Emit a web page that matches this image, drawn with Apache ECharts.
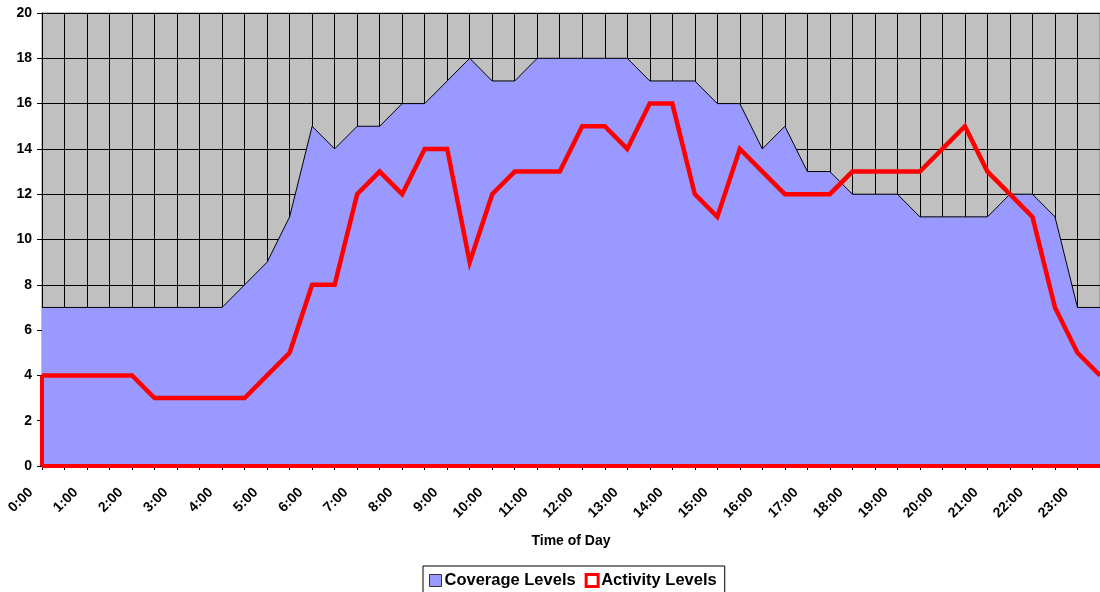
<!DOCTYPE html>
<html>
<head>
<meta charset="utf-8">
<script src="https://cdn.jsdelivr.net/npm/echarts@6/dist/echarts.min.js"></script>
<style>
    html, body { margin: 0; padding: 0; background: #fff; }
    #mychart { width: 1100px; height: 592px; }
</style>
</head>
<body>
<div id="mychart"></div>
<script>
// half-hour slots, 0:00 .. 23:30
var times = []
for (var h = 0; h < 24; h++) {
    times.push(h + ':00')
    times.push(h + ':30')
}

var coverage = [7, 7, 7, 7, 7, 7, 7, 7, 7, 8, 9, 11, 15, 14, 15, 15, 16, 16, 17, 18, 17, 17, 18, 18,
    18, 18, 18, 17, 17, 17, 16, 16, 14, 15, 13, 13, 12, 12, 12, 11, 11, 11, 11, 12, 12, 11, 7, 7]

var activity = [4, 4, 4, 4, 4, 3, 3, 3, 3, 3, 4, 5, 8, 8, 12, 13, 12, 14, 14, 9, 12, 13, 13, 13,
    15, 15, 14, 16, 16, 12, 11, 14, 13, 12, 12, 12, 13, 13, 13, 13, 14, 15, 13, 12, 11, 7, 5, 4]

var yTicks = { min: 0, max: 20, interval: 2 }

var font = 'Liberation Sans, Arial, sans-serif'

var myChart = echarts.init(document.getElementById('mychart'))

var option = {
    animation: false,
    backgroundColor: '#ffffff',
    textStyle: { fontFamily: font },
    grid: {
        left: 42,
        top: 13,
        right: -4,
        bottom: 126,
        show: true,
        backgroundColor: '#C0C0C0',
        borderColor: '#808080',
        borderWidth: 1,
    },
    legend: {
        left: 423,
        top: 566,
        padding: [6, 8, 6, 6],
        itemGap: 9,
        itemWidth: 12,
        itemHeight: 12,
        borderColor: '#000',
        borderWidth: 1,
        textStyle: {
            color: '#000',
            fontWeight: 'bold',
            fontSize: 16.5,
            fontFamily: font,
            padding: [0, 0, 0, -2],
        },
        data: [{
                name: 'Coverage Levels',
                icon: 'rect',
                itemStyle: { color: '#9999FF', borderColor: '#333', borderWidth: 1 },
            },
            {
                name: 'Activity Levels',
                icon: 'rect',
                itemStyle: { color: '#ffffff', borderColor: '#FF0000', borderWidth: 3 },
            },
        ],
    },
    xAxis: {
        type: 'category',
        data: times,
        boundaryGap: false,
        name: 'Time of Day',
        nameLocation: 'middle',
        nameGap: 68,
        nameTextStyle: { color: '#000', fontWeight: 'bold', fontSize: 14, fontFamily: font },
        axisLine: { show: true, lineStyle: { color: '#000', width: 1 } },
        axisTick: { show: true, interval: 0, length: 4, lineStyle: { color: '#000' } },
        axisLabel: {
            interval: 1,
            rotate: 45,
            margin: 13,
            padding: [0, 16, 0, 0],
            color: '#000',
            fontWeight: 'bold',
            fontSize: 14,
            fontFamily: font,
        },
        splitLine: { show: true, interval: 0, lineStyle: { color: '#000', width: 1 } },
    },
    yAxis: {
        type: 'value',
        min: yTicks.min,
        max: yTicks.max,
        interval: yTicks.interval,
        axisLine: { show: true, lineStyle: { color: '#000', width: 1 } },
        axisTick: { show: true, length: 5, lineStyle: { color: '#000' } },
        axisLabel: {
            margin: 10,
            color: '#000',
            fontWeight: 'bold',
            fontSize: 14,
            fontFamily: font,
        },
        splitLine: { show: true, lineStyle: { color: '#000', width: 1 } },
    },
    series: [{
            name: 'Coverage Levels',
            type: 'line',
            data: coverage,
            symbol: 'none',
            lineStyle: { color: '#000', width: 1 },
            itemStyle: { color: '#9999FF' },
            areaStyle: { color: '#9999FF', opacity: 1 },
            z: 2,
        },
        {
            name: 'Activity Levels',
            type: 'line',
            data: activity,
            symbol: 'none',
            lineStyle: { color: '#FF0000', width: 4.5, join: 'miter' },
            itemStyle: { color: '#FF0000' },
            z: 3,
            markLine: {
                silent: true,
                symbol: 'none',
                label: { show: false },
                lineStyle: { color: '#FF0000', width: 4, type: 'solid' },
                data: [
                    [{ coord: [0, 0] }, { coord: [times.length - 1, 0] }],
                    [{ coord: [0, 0] }, { coord: [0, activity[0]] }],
                ],
            },
        },
    ],
}

myChart.setOption(option)
</script>
</body>
</html>
